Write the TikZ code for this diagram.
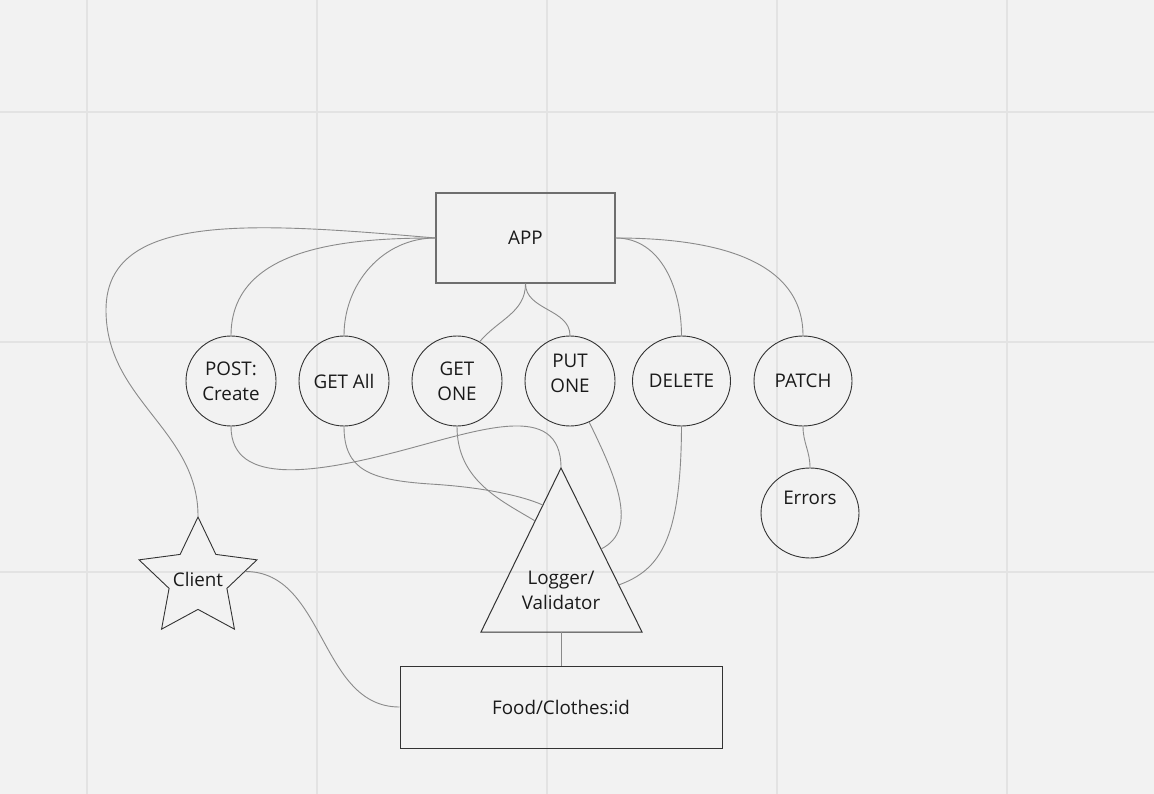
\documentclass[tikz,border=0pt]{standalone}
\usepackage{fontspec}
\setmainfont{Open Sans}
\usetikzlibrary{shapes.geometric,calc}
\definecolor{canvas}{HTML}{F2F2F2}
\definecolor{gridline}{HTML}{E3E3E3}
\definecolor{wire}{HTML}{8A8A8A}
\definecolor{edge}{HTML}{333333}
\definecolor{boxedge}{HTML}{6E6E6E}
\definecolor{ink}{HTML}{1A1A1A}
\tikzset{
  txt/.style={font=\fontsize{18.8}{25}\selectfont,text=ink,align=center},
  route/.style={txt,circle,draw=edge,line width=0.9pt,minimum size=90pt,inner sep=0pt},
  wideroute/.style={route,ellipse,minimum width=98pt,minimum height=90pt},
  block/.style={txt,rectangle,draw=boxedge,line width=1.3pt,inner sep=0pt},
  wire/.style={draw=wire,line width=0.9pt}
}
\begin{document}
\begin{tikzpicture}[x=1pt,y=-1pt]
% nen va luoi
\fill[canvas] (0,0) rectangle (1154,794);
\useasboundingbox (0,0) rectangle (1154,794);
\foreach \gx in {87,317,547,777,1007}
\draw[gridline,line width=2pt] (\gx,0)--(\gx,794);
\foreach \gy in {112,342,572}
\draw[gridline,line width=2pt] (0,\gy)--(1154,\gy);
% cac nut
\node[block,minimum width=179pt,minimum height=90pt] (app) at (525.5,238) {APP};
\node[route] (post) at (231,381) {POST:\\Create};
\node[route] (getall) at (344,381) {GET All};
\node[route] (getone) at (457,381) {GET\\ONE};
\node[route,label={[txt,yshift=8pt]center:PUT\\ONE}] (putone) at (570,381) {};
\node[wideroute] (delete) at (681.5,381) {DELETE};
\node[wideroute] (patch) at (803,381) {PATCH};
\node[wideroute,label={[txt,yshift=15pt]center:Errors}] (errors) at (810,513) {};
\node[star,star points=5,star point ratio=2.04,minimum size=124pt,inner sep=0pt,
  draw=edge,line width=0.9pt,label={[txt]center:Client}] (client) at (198,579) {};
\node[block,draw=edge,line width=1pt,minimum width=322pt,minimum height=82pt] (food) at (561,707) {Food/Clothes:id};
% tam giac logger
\coordinate (apex) at (561,468);
\coordinate (baseR) at (642,632);
\coordinate (baseL) at (481,632);
\draw[edge,line width=1pt] (apex)--(baseR)--(baseL)--cycle;
\node[txt] (logger) at (561,590) {Logger/\\Validator};
\coordinate (logbase) at (561,632);
\coordinate (logL1) at ($(apex)!0.226!(baseL)$);
\coordinate (logL2) at ($(apex)!0.323!(baseL)$);
\coordinate (logR1) at ($(apex)!0.494!(baseR)$);
\coordinate (logR2) at ($(apex)!0.713!(baseR)$);
% day noi
\draw[wire] (app.west) .. controls (250,222) and (106,212) .. (106,310)
  .. controls (106,400) and (198,430) .. (client.north);
\draw[wire] (app.west) to[out=180,in=90] (post.north);
\draw[wire] (app.west) to[out=180,in=90] (getall.north);
\draw[wire] (app.south) to[out=-90,in=50] (getone.60);
\draw[wire] (app.south) to[out=-90,in=90] (putone.north);
\draw[wire] (app.east) to[out=0,in=90] (delete.north);
\draw[wire] (app.east) to[out=0,in=90] (patch.north);
\draw[wire] (patch.south) to[out=-90,in=90] (errors.north);
\draw[wire] (post.south) .. controls (231,488) and (320,472) .. (400,451)
  .. controls (480,430) and (561,400) .. (apex);
\draw[wire] (getall.south) .. controls (344,470) and (370,480) .. (430,484)
  .. controls (480,487) and (520,495) .. (logL1);
\draw[wire] (getone.south) .. controls (457,480) and (500,500) .. (logL2);
\draw[wire] (putone.-65) .. controls (615,475) and (640,530) .. (logR1);
\draw[wire] (delete.south) .. controls (681,540) and (660,570) .. (logR2);
\draw[wire] (logbase)--(food.north);
\draw[wire] (client.9) to[out=0,in=180] (food.west);
\end{tikzpicture}
\end{document}
